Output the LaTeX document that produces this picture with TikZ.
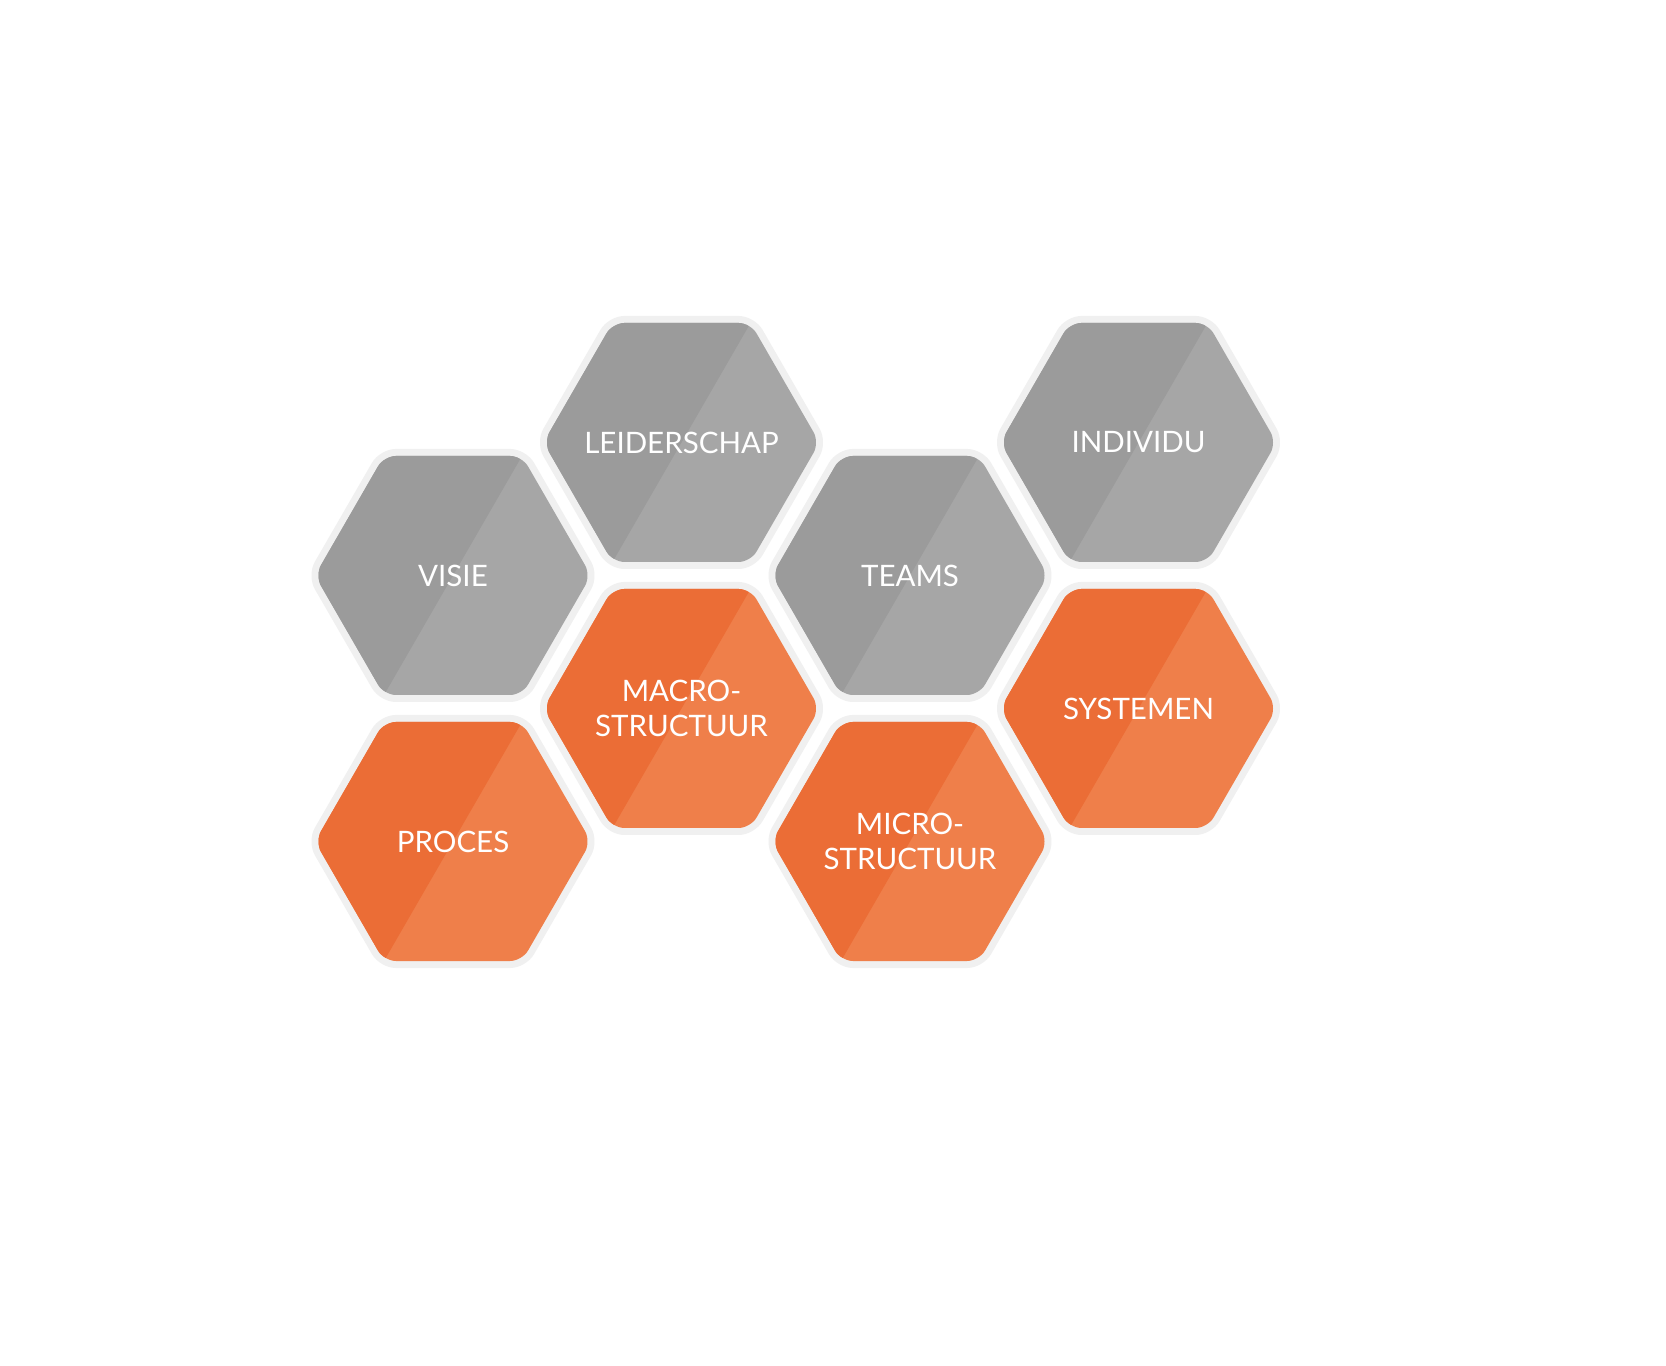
\documentclass[tikz,border=0pt]{standalone}
\usepackage{fontspec}
\setmainfont{Lato}
\usetikzlibrary{calc}
\definecolor{greydark}{HTML}{9B9B9B}
\definecolor{greylight}{HTML}{A6A6A6}
\definecolor{orangedark}{HTML}{EB6D36}
\definecolor{orangelight}{HTML}{EF7F4A}
\definecolor{rimgrey}{HTML}{F0F0F0}
\newcommand{\hexcell}[1]{($(#1)+(0:\rad)$) -- ++(120:\rad) -- ++(180:\rad) -- ++(240:\rad) -- ++(300:\rad) -- ++(0:\rad) -- cycle}

\begin{document}
\begin{tikzpicture}[
    rim/.style={draw=rimgrey, line width=0.14cm, line join=round, rounded corners=0.12cm},
    cell/.style={rounded corners=0.12cm},
    hexlabel/.style={text=white, align=center, inner sep=0pt, font=\fontsize{8.4pt}{10pt}\selectfont}
  ]
    \pgfmathsetmacro{\rad}{1.38}
    \pgfmathsetmacro{\dx}{2.285}
    \pgfmathsetmacro{\dy}{1.33}

    \fill[white] (0,0) rectangle (16.66,13.66);
    \useasboundingbox (0,0) rectangle (16.66,13.66);

    \foreach \name/\col/\row/\tint/\txt in {
        visie/0/2/grey/VISIE,
        leiderschap/1/3/grey/LEIDERSCHAP,
        teams/2/2/grey/TEAMS,
        individu/3/3/grey/INDIVIDU,
        proces/0/0/orange/PROCES,
        macro/1/1/orange/{MACRO-\\STRUCTUUR},
        micro/2/0/orange/{MICRO-\\STRUCTUUR},
        systemen/3/1/orange/SYSTEMEN}{
      \coordinate (\name) at (4.53+\col*\dx, 5.245+\row*\dy);
      \draw[rim] \hexcell{\name};
      \fill[cell, \tint light] \hexcell{\name};
      % darker left half, cut along the 60-240 diagonal
      \begin{scope}
        \clip[cell] \hexcell{\name};
        \fill[\tint dark] ($(\name)+(60:\rad)$) -- ++(150:\rad) -- ++(240:2*\rad) -- ++(330:\rad) -- cycle;
      \end{scope}
      \node[hexlabel] (\name-lbl) at (\name) {\txt};
    }
\end{tikzpicture}
\end{document}
